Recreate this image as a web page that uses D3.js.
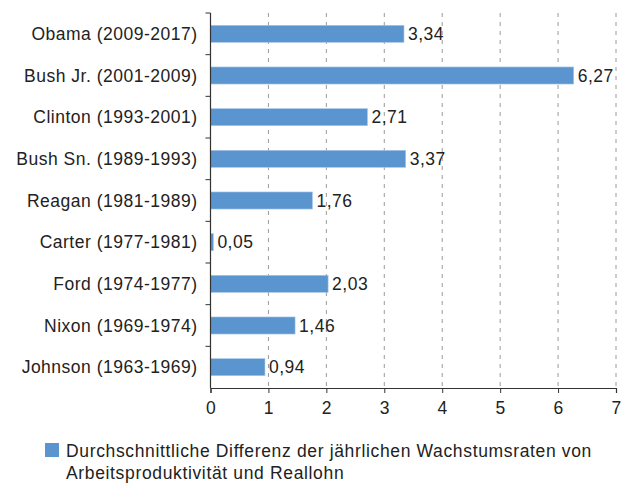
<!DOCTYPE html>
<html>
<head>
<meta charset="utf-8">
<script src="https://cdn.jsdelivr.net/npm/d3@7"></script>
<style>
  body { margin: 0; background: #fff; }
  text { font-family: "Liberation Sans", Arial, sans-serif; fill: #222; letter-spacing: 0.5px; }
</style>
</head>
<body>
<svg id="chart" width="630" height="486"></svg>
<script>
// Data
const presidents = ["Obama (2009-2017)", "Bush Jr. (2001-2009)", "Clinton (1993-2001)", "Bush Sn. (1989-1993)",
  "Reagan (1981-1989)", "Carter (1977-1981)", "Ford (1974-1977)", "Nixon (1969-1974)", "Johnson (1963-1969)"];
const values = [3.34, 6.27, 2.71, 3.37, 1.76, 0.05, 2.03, 1.46, 0.94];
const xTicks = [0, 1, 2, 3, 4, 5, 6, 7];
const legendLines = ["Durchschnittliche Differenz der jährlichen Wachstumsraten von", "Arbeitsproduktivität und Reallohn"];

const barColor = "#5b95cf";
const svg = d3.select("#chart");
const margin = { left: 210.5, right: 14, top: 13, bottom: 98 };
const W = 630, H = 486;

const x = d3.scaleLinear().domain([0, 7]).range([margin.left, W - margin.right]);
const y = d3.scaleBand().domain(presidents).range([margin.top, H - margin.bottom]).paddingInner(0.59).paddingOuter(0.295);

// --- gridlines ---
svg.append("g").selectAll("line")
  .data(xTicks.filter(d => d > 0))
  .join("line")
  .attr("x1", d => x(d)).attr("x2", d => x(d))
  .attr("y1", margin.top).attr("y2", H - margin.bottom)
  .attr("stroke", "#9a9a9a")
  .attr("stroke-width", 1)
  .attr("stroke-dasharray", "4,5");

// --- bars ---
svg.append("g").selectAll("rect")
  .data(presidents)
  .join("rect")
  .attr("x", x(0))
  .attr("y", d => y(d))
  .attr("width", (d, i) => x(values[i]) - x(0))
  .attr("height", y.bandwidth())
  .attr("fill", barColor)
  .attr("stroke", "#a9c8e8")
  .attr("stroke-width", 0.6);

// value labels
svg.append("g").selectAll("text")
  .data(presidents)
  .join("text")
  .attr("x", (d, i) => x(values[i]) + 4)
  .attr("y", d => y(d) + y.bandwidth() / 2)
  .attr("dy", "0.36em")
  .attr("font-size", 17.5)
  .text((d, i) => d3.format(".2f")(values[i]).replace(".", ","));

// --- y axis ---
const step = y.step();
const yAxis = svg.append("g");
yAxis.append("line")
  .attr("x1", margin.left).attr("x2", margin.left)
  .attr("y1", margin.top).attr("y2", H - margin.bottom)
  .attr("stroke", "#333").attr("stroke-width", 1.2);
yAxis.selectAll(".yt")
  .data(d3.range(presidents.length))
  .join("line")
  .attr("x1", margin.left - 5).attr("x2", margin.left)
  .attr("y1", i => margin.top + i * step).attr("y2", i => margin.top + i * step)
  .attr("stroke", "#333");
yAxis.selectAll("text")
  .data(presidents)
  .join("text")
  .attr("x", margin.left - 13)
  .attr("y", d => y(d) + y.bandwidth() / 2)
  .attr("dy", "0.36em")
  .attr("text-anchor", "end")
  .attr("font-size", 17.5)
  .text(d => d);

// --- x axis ---
const xAxis = svg.append("g").attr("transform", `translate(0,${H - margin.bottom})`)
  .call(d3.axisBottom(x).tickValues(xTicks).tickSize(5).tickPadding(9).tickFormat(d3.format("d")));
xAxis.select(".domain").attr("stroke", "#333").attr("stroke-width", 1.2);
xAxis.selectAll(".tick line").attr("stroke", "#333");
xAxis.selectAll("text").attr("font-size", 17.5).attr("fill", "#222")
  .style("font-family", "Liberation Sans, Arial, sans-serif");

// --- legend ---
const leg = svg.append("g");
leg.append("rect").attr("x", 45).attr("y", 443).attr("width", 14).attr("height", 14).attr("fill", barColor);
leg.selectAll("text")
  .data(legendLines)
  .join("text")
  .attr("x", 66)
  .attr("y", (d, i) => 457 + i * 22)
  .attr("font-size", 17.5)
  .style("letter-spacing", "0.65px")
  .text(d => d);
</script>
</body>
</html>
